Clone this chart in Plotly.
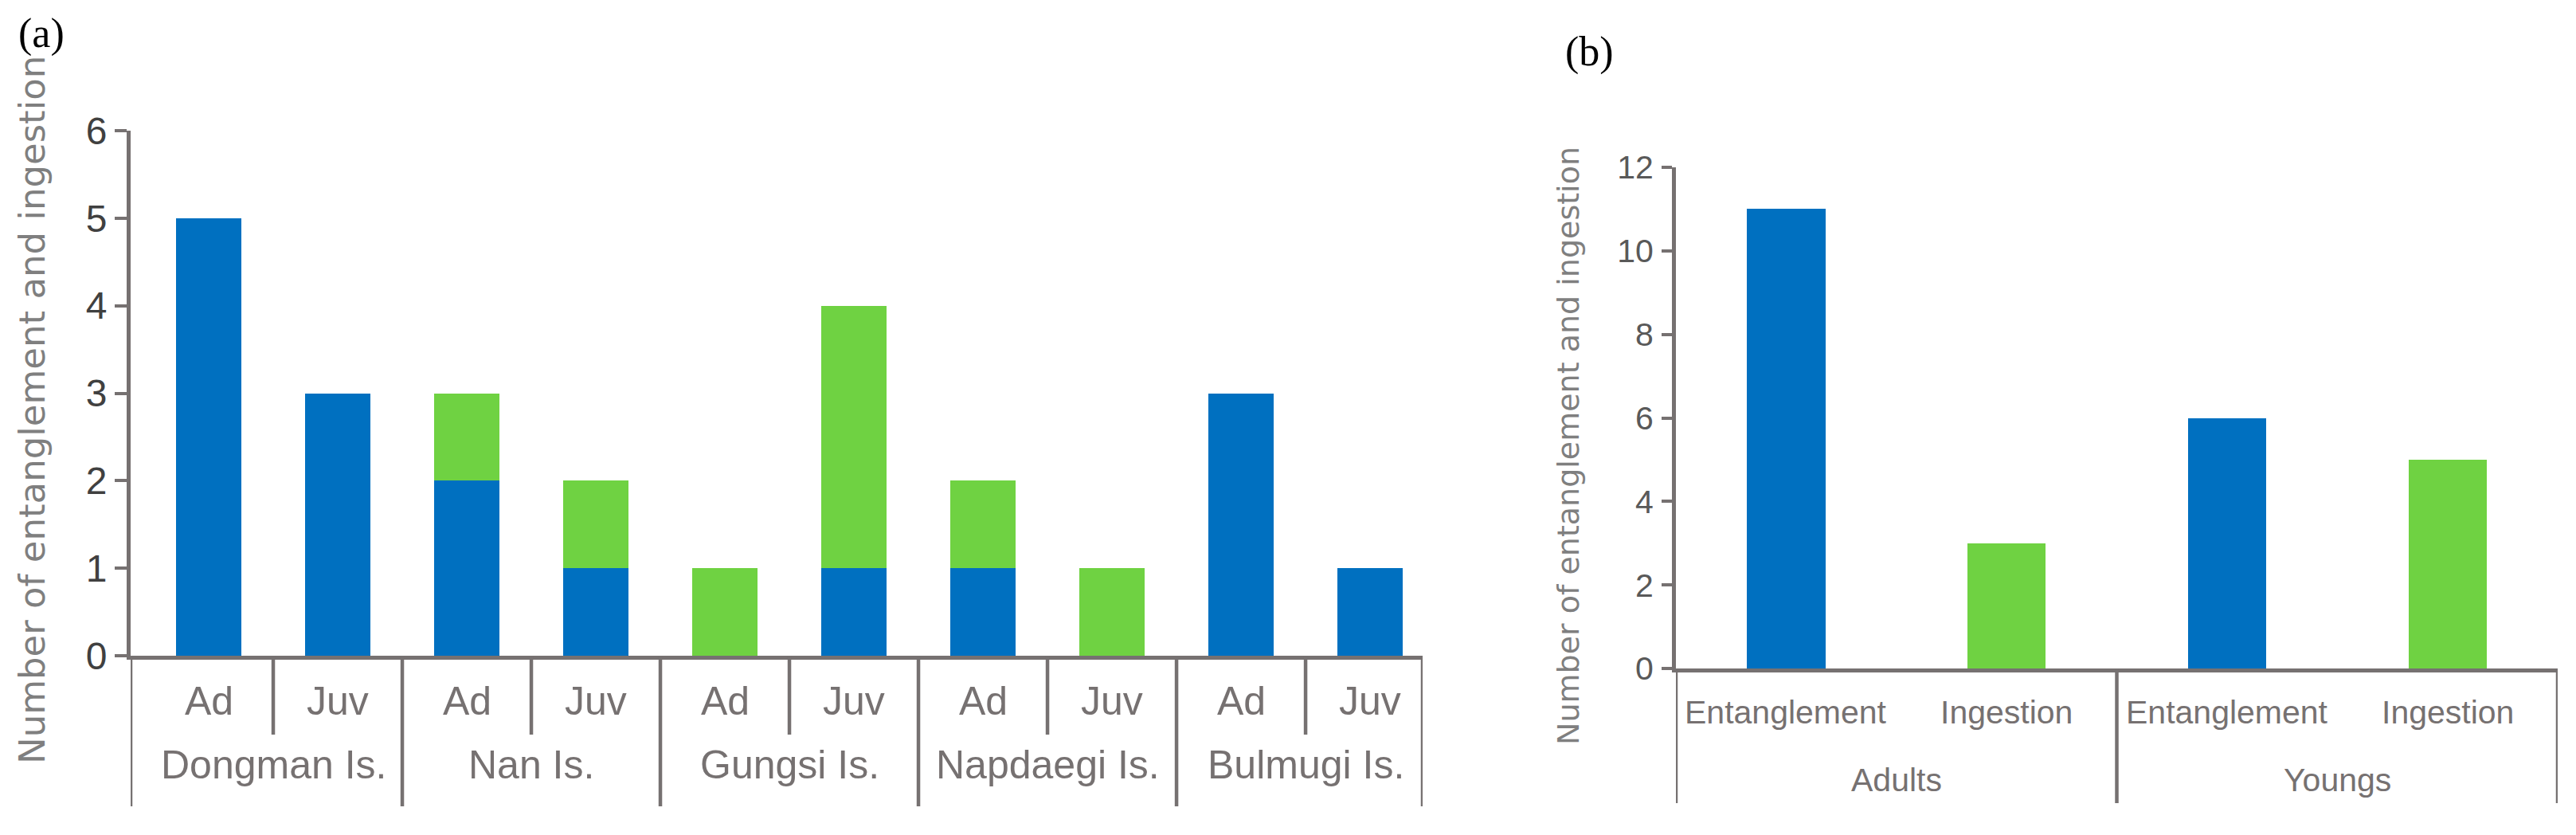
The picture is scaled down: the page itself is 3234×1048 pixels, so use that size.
import plotly.graph_objects as go

# ---------------- data ----------------
islands = ["Dongman Is.", "Nan Is.", "Gungsi Is.", "Napdaegi Is.", "Bulmugi Is."]
stages = ["Ad", "Juv"]
entanglement_a = [5, 3, 2, 1, 0, 1, 1, 0, 3, 1]   # blue, per island/stage
ingestion_a = [0, 0, 1, 1, 1, 3, 1, 1, 0, 0]      # green, per island/stage

age_groups = ["Adults", "Youngs"]
types_b = ["Entanglement", "Ingestion"]
entanglement_b = [11, 6]
ingestion_b = [3, 5]

# ---------------- style ----------------
W, H = 3234, 1048
OFF = 8  # page body margin
BLUE = "#0070C0"
GREEN = "#6FD242"
AXIS = "#767171"
TXT = "#767171"
FONT = "Liberation Sans, Arial, sans-serif"

def py(pix):
    """pixel row (in the page) -> paper y"""
    return 1 - (pix - OFF) / H

def px(pix):
    """pixel column (in the page) -> paper x"""
    return (pix - OFF) / W

fig = go.Figure()

# panel (a)
n_a = len(islands) * len(stages)
xa = list(range(n_a))
fig.add_trace(go.Bar(x=xa, y=entanglement_a, marker=dict(color=BLUE, line=dict(width=0)),
                     width=0.51, xaxis="x", yaxis="y", name="Entanglement"))
fig.add_trace(go.Bar(x=xa, y=ingestion_a, marker=dict(color=GREEN, line=dict(width=0)),
                     width=0.51, xaxis="x", yaxis="y", name="Ingestion"))

# panel (b)
nt = len(types_b)
xb_ent = [g * nt + 0 for g in range(len(age_groups))]
xb_ing = [g * nt + 1 for g in range(len(age_groups))]
fig.add_trace(go.Bar(x=xb_ent, y=entanglement_b, marker=dict(color=BLUE, line=dict(width=0)),
                     width=0.355, xaxis="x2", yaxis="y2", name="Entanglement"))
fig.add_trace(go.Bar(x=xb_ing, y=ingestion_b, marker=dict(color=GREEN, line=dict(width=0)),
                     width=0.355, xaxis="x2", yaxis="y2", name="Ingestion"))

xa_range = [-0.605, n_a - 0.593]
xb_range = [-0.5, len(age_groups) * nt - 0.5]

common_x = dict(showline=True, linecolor=AXIS, linewidth=5, showticklabels=False,
                ticks="", showgrid=False, zeroline=False, fixedrange=True, automargin=False)
common_y = dict(showline=True, linecolor=AXIS, linewidth=5, ticks="outside",
                tickcolor=AXIS, tickwidth=4, showgrid=False, zeroline=False,
                fixedrange=True, automargin=False)

fig.update_layout(
    width=W, height=H,
    margin=dict(l=0, r=0, t=0, b=0, pad=0, autoexpand=False),
    paper_bgcolor="white", plot_bgcolor="white",
    showlegend=False, barmode="stack",
    xaxis=dict(domain=[px(164), px(1786)], range=xa_range, anchor="y", **common_x),
    yaxis=dict(domain=[py(823), py(164)], range=[0, 6], dtick=1, ticklen=15,
               tickfont=dict(family=FONT, size=48, color="#404040"),
               ticklabelstandoff=0, anchor="x", **common_y),
    xaxis2=dict(domain=[px(2104), px(3211)], range=xb_range, anchor="y2", **common_x),
    yaxis2=dict(domain=[py(839), py(210)], range=[0, 12], dtick=2, ticklen=13,
                tickfont=dict(family=FONT, size=41, color="#595959"),
                ticklabelstandoff=2, anchor="x2", **common_y),
)

shapes = []
annotations = []

# panel (a) category labels and dividers
for g, isl in enumerate(islands):
    for s, st in enumerate(stages):
        i = g * len(stages) + s
        annotations.append(dict(x=i, y=py(880), xref="x", yref="paper", text=st,
                                showarrow=False, xanchor="center", yanchor="middle",
                                font=dict(family=FONT, size=50, color=TXT)))
    annotations.append(dict(x=g * len(stages) + (len(stages) - 1) / 2, y=py(960),
                            xref="x", yref="paper", text=isl, showarrow=False,
                            xanchor="center", yanchor="middle",
                            font=dict(family=FONT, size=50, color=TXT)))
    shapes.append(dict(type="line", xref="x", yref="paper",
                       x0=g * len(stages) + 0.5, x1=g * len(stages) + 0.5,
                       y0=py(823), y1=py(922), line=dict(color=AXIS, width=4.5)))
group_bounds_a = [xa_range[0]] + [g * len(stages) - 0.5 for g in range(1, len(islands))] + [xa_range[1]]
for xv in group_bounds_a:
    shapes.append(dict(type="line", xref="x", yref="paper", x0=xv, x1=xv,
                       y0=py(823), y1=py(1012), line=dict(color=AXIS, width=4.5)))

# panel (b) category labels and dividers
for g, grp in enumerate(age_groups):
    for t, ty in enumerate(types_b):
        i = g * nt + t
        annotations.append(dict(x=i, y=py(894), xref="x2", yref="paper", text=ty,
                                showarrow=False, xanchor="center", yanchor="middle",
                                font=dict(family=FONT, size=41, color=TXT)))
    annotations.append(dict(x=g * nt + (nt - 1) / 2, y=py(979), xref="x2", yref="paper",
                            text=grp, showarrow=False, xanchor="center", yanchor="middle",
                            font=dict(family=FONT, size=41, color=TXT)))
group_bounds_b = [xb_range[0]] + [g * nt - 0.5 for g in range(1, len(age_groups))] + [xb_range[1]]
for xv in group_bounds_b:
    shapes.append(dict(type="line", xref="x2", yref="paper", x0=xv, x1=xv,
                       y0=py(839), y1=py(1008), line=dict(color=AXIS, width=4.5)))

# axis titles
ytitle = "Number of entanglement and ingestion"
annotations.append(dict(x=px(40), y=py(515), xref="paper", yref="paper", text=ytitle,
                        textangle=-90, showarrow=False, xanchor="center", yanchor="middle",
                        font=dict(family="DejaVu Sans, sans-serif", size=45, color="#7F7F7F")))
annotations.append(dict(x=px(1969), y=py(560), xref="paper", yref="paper", text=ytitle,
                        textangle=-90, showarrow=False, xanchor="center", yanchor="middle",
                        font=dict(family="DejaVu Sans, sans-serif", size=38, color="#7F7F7F")))

# panel letters
annotations.append(dict(x=px(52), y=py(42), xref="paper", yref="paper", text="(a)",
                        showarrow=False, xanchor="center", yanchor="middle",
                        font=dict(family="Liberation Serif, serif", size=52, color="black")))
annotations.append(dict(x=px(1996), y=py(65), xref="paper", yref="paper", text="(b)",
                        showarrow=False, xanchor="center", yanchor="middle",
                        font=dict(family="Liberation Serif, serif", size=52, color="black")))

fig.update_layout(shapes=shapes, annotations=annotations)
fig.write_html("out.html")
